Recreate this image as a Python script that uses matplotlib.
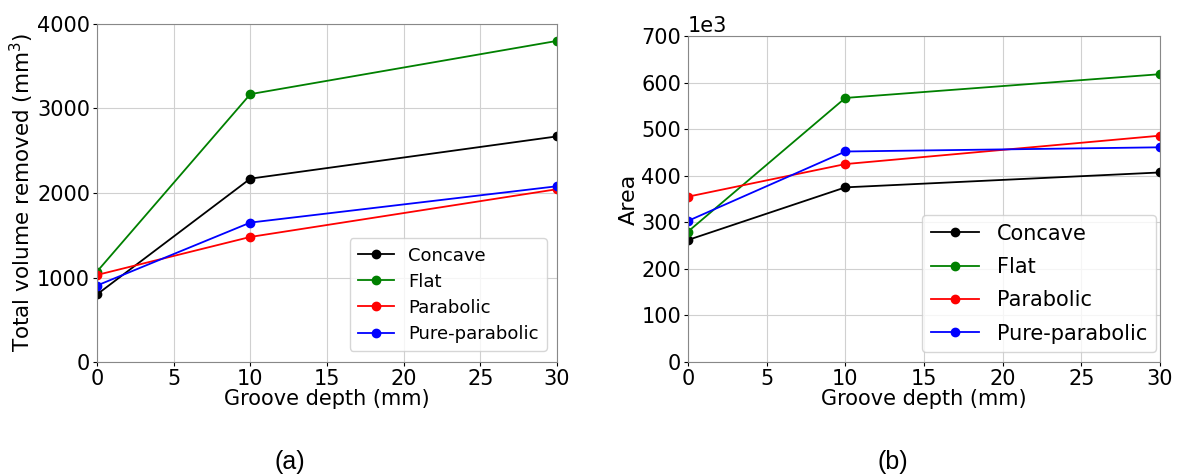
import matplotlib.pyplot as plt
from matplotlib.ticker import ScalarFormatter

depth = [0, 10, 30]
names = ['Concave', 'Flat', 'Parabolic', 'Pure-parabolic']
kleuren = ['k', 'g', 'r', 'b']

# total volume removed (mm^3)
vol_concave = [800, 2170, 2670]
vol_flat = [1070, 3170, 3800]
vol_parabolic = [1030, 1480, 2045]
vol_pure = [905, 1650, 2080]

# area
area_concave = [262000, 375000, 407000]
area_flat = [280000, 567000, 618000]
area_parabolic = [355000, 425000, 486000]
area_pure = [303000, 452000, 461000]

volumes = [vol_concave, vol_flat, vol_parabolic, vol_pure]
areas = [area_concave, area_flat, area_parabolic, area_pure]

fig = plt.figure(figsize=(11.8, 4.75), dpi=100)
ax1 = fig.add_axes([97/1180, 1-362/475, 460/1180, 338/475])
ax2 = fig.add_axes([688/1180, 1-362/475, 472/1180, 326/475])

for i in range(len(names)):
    ax1.plot(depth, volumes[i], '-o', color=kleuren[i], label=names[i], lw=1.3, ms=6)
    ax2.plot(depth, areas[i], '-o', color=kleuren[i], label=names[i], lw=1.3, ms=6)

for ax in [ax1, ax2]:
    ax.set_xlim(0, 30)
    ax.set_xticks([0, 5, 10, 15, 20, 25, 30])
    ax.grid(True, color='#d0d0d0', lw=0.8)
    ax.tick_params(labelsize=15, length=3, pad=2)
    for s in ax.spines.values():
        s.set_color('#888888')
    ax.set_xlabel('Groove depth (mm)', fontsize=15, labelpad=0)

ax1.set_ylim(0, 4000)
ax1.set_yticks([0, 1000, 2000, 3000, 4000])
ax1.set_ylabel('Total volume removed (mm$^3$)', fontsize=15.5, labelpad=1)
ax1.legend(loc='lower right', fontsize=13, bbox_to_anchor=(0.978, 0.0325),
           borderaxespad=0, handlelength=2, borderpad=0.45, labelspacing=0.45)

ax2.set_ylim(0, 700000)
fmt = ScalarFormatter(useMathText=False)
fmt.set_powerlimits((3, 3))
ax2.yaxis.set_major_formatter(fmt)
ax2.yaxis.get_offset_text().set_fontsize(15)
ax2.set_ylabel('Area', fontsize=16, labelpad=2)
ax2.legend(loc='lower right', fontsize=15, bbox_to_anchor=(0.9915, 0.031),
           borderaxespad=0, handlelength=2.3, handletextpad=0.9,
           borderpad=0.4, labelspacing=0.64)

fig.text(290/1180, 1-462/475, '(a)', fontsize=18, family='Liberation Sans', ha='center', va='center')
fig.text(893/1180, 1-462/475, '(b)', fontsize=18, family='Liberation Sans', ha='center', va='center')

plt.savefig('out.png')
